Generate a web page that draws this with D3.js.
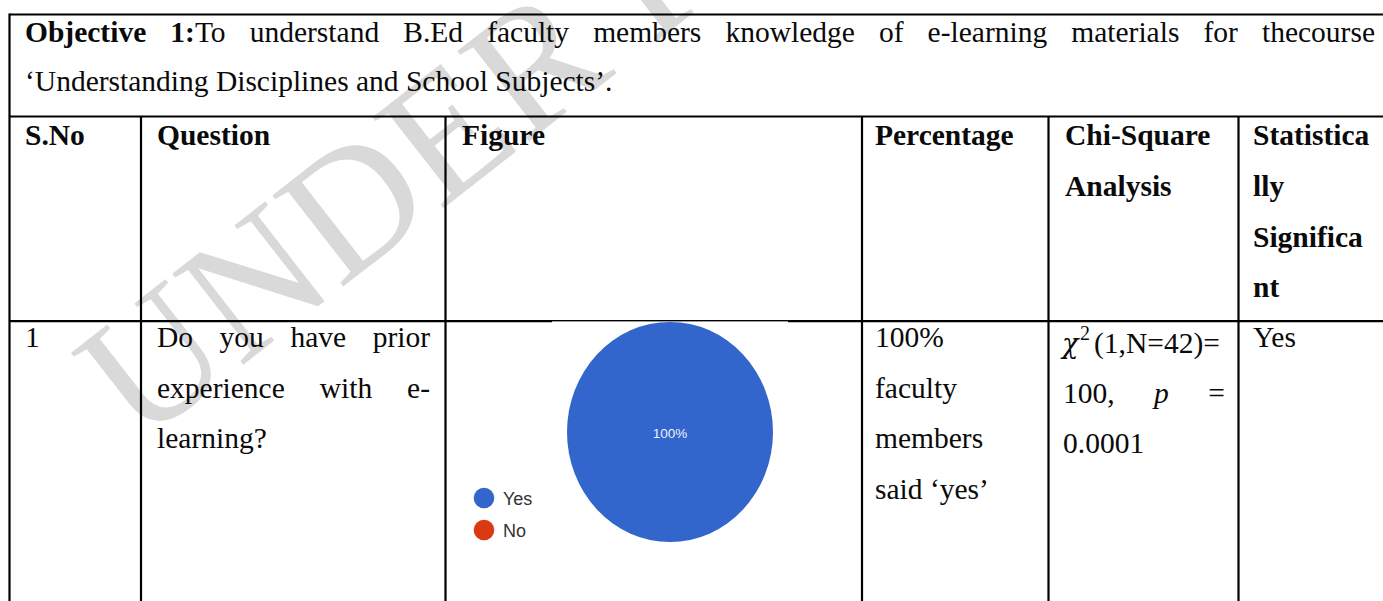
<!DOCTYPE html>
<html><head><meta charset="utf-8">
<script src="https://cdn.jsdelivr.net/npm/d3@7"></script>
<style>html,body{margin:0;padding:0;background:#fff;overflow:hidden}</style>
</head><body>
<script>
// ---- data ----
const categories = ["Yes", "No"];
const values = [100, 0];
const sliceColors = ["#3366cc", "#dc3912"];
const sliceLabels = ["100%", ""];
const headerLines = [["S.No"], ["Question"], ["Figure"], ["Percentage"], ["Chi-Square", "Analysis"], ["Statistica", "lly", "Significa", "nt"]];
const objectiveLine1 = [[["Objective", "b"]], [["1:", "b"], ["To"]], [["understand"]], [["B.Ed"]], [["faculty"]], [["members"]], [["knowledge"]], [["of"]], [["e-learning"]], [["materials"]], [["for"]], [["thecourse"]]];
const objectiveLine2 = "‘Understanding Disciplines and School Subjects’.";
const rowNumber = "1";
const questionLines = ["Do you have prior", "experience with e-", "learning?"];
const percentageLines = ["100%", "faculty", "members", "said ‘yes’"];
const chiLine1 = ["χ", "2", "(1,N=42)="];
const chiLine2 = [[["100,"]], [["p", "i"]], [["="]]];
const chiLine3 = "0.0001";
const significant = "Yes";
const watermark = "UNDER REVIEW";

// ---- layout ----
const W = 1383, H = 601;
const SERIF = "'Liberation Serif','Times New Roman',serif";
const FS = 29.5;
const svg = d3.select("body").append("svg").attr("width", W).attr("height", H)
  .style("display", "block");

// watermark (clipped by the page edge, as in the source)
svg.append("g").attr("clip-path", "inset(0)").append("text").text(watermark)
  .attr("transform", "translate(139,446) rotate(-38)")
  .attr("font-family", SERIF).attr("font-size", 176)
  .attr("fill", "#d9d9d9");

function addSegs(textSel, segs) {
  segs.forEach(s => {
    const ts = textSel.append("tspan").text(s[0]);
    if (s[1] === "b") ts.attr("font-weight", "bold");
    if (s[1] === "i") ts.attr("font-style", "italic");
  });
}
function makeText(x, y, segs) {
  const t = svg.append("text").attr("x", x).attr("y", y)
    .attr("font-family", SERIF).attr("font-size", FS).attr("fill", "#0a0a0a");
  addSegs(t, segs);
  return t;
}
function justify(words, x0, x1, y) {
  const nodes = words.map(w => makeText(0, y, w));
  const widths = nodes.map(n => n.node().getComputedTextLength());
  const total = d3.sum(widths);
  const gap = (x1 - x0 - total) / (words.length - 1);
  let x = x0;
  nodes.forEach((n, i) => { n.attr("x", x); x += widths[i] + gap; });
}

// Objective row
justify(objectiveLine1, 25, 1375, 41.7);
makeText(25, 90.5, [[objectiveLine2]]);

// header row
const colText = [25, 157, 462, 875, 1065, 1253];
const headerBase = [145, 195.7, 246.5, 297.3];
headerLines.forEach((lines, c) => lines.forEach((ln, i) => makeText(colText[c], headerBase[i], [[ln, "b"]])));

// data row
const rowBase = [347.3, 397.8, 448.2, 498.5];
makeText(25, rowBase[0], [[rowNumber]]);
justify(questionLines[0].split(" ").map(w => [[w]]), 157, 430, rowBase[0]);
justify(questionLines[1].split(" ").map(w => [[w]]), 157, 430, rowBase[1]);
makeText(157, rowBase[2], [[questionLines[2]]]);
percentageLines.forEach((ln, i) => makeText(875, rowBase[i], [[ln]]));
const chiT = makeText(1062, 352.5, []);
chiT.append("tspan").attr("font-style", "italic").attr("font-family", "'DejaVu Serif',serif").attr("font-size", 27).text(chiLine1[0]);
chiT.append("tspan").attr("x", 1080).attr("font-size", 20).attr("dy", -13).text(chiLine1[1]);
chiT.append("tspan").attr("x", 1094).attr("dy", 13).text(chiLine1[2]);
justify(chiLine2, 1063, 1225, 403);
makeText(1063, 453, [[chiLine3]]);
makeText(1253, rowBase[0], [[significant]]);

// table lines
const lineX = [9.5, 141, 445.5, 862, 1048.5, 1238.5];
const yTop = 14.5, yObj = 116.5, yHead = 321.2;
const g = svg.append("g").attr("stroke", "#000").attr("stroke-width", 2.2);
g.append("line").attr("x1", lineX[0]).attr("x2", W).attr("y1", yTop).attr("y2", yTop);
g.append("line").attr("x1", lineX[0]).attr("x2", W).attr("y1", yObj).attr("y2", yObj);
g.append("line").attr("x1", lineX[0]).attr("x2", W).attr("y1", yHead).attr("y2", yHead);
g.append("line").attr("x1", lineX[0]).attr("x2", lineX[0]).attr("y1", yTop - 1).attr("y2", H);
lineX.slice(1).forEach(x => g.append("line").attr("x1", x).attr("x2", x).attr("y1", yObj).attr("y2", H));

// figure image: white background slightly covering the line
svg.append("rect").attr("x", 552).attr("y", yHead + 0.2).attr("width", 236).attr("height", 2).attr("fill", "#fff");

// pie
const cx = 670, cy = 432, rx = 103, ry = 110;
const pie = d3.pie().sort(null).value(d => d)(values);
const arc = d3.arc().innerRadius(0).outerRadius(rx);
const pg = svg.append("g").attr("transform", `translate(${cx},${cy}) scale(1,${ry / rx})`);
pg.selectAll("path").data(pie).join("path")
  .attr("d", arc).attr("fill", (d, i) => sliceColors[i]);
const full = d => d.endAngle - d.startAngle >= 2 * Math.PI - 1e-6;
svg.selectAll(".slabel").data(pie.filter(d => d.value > 0)).join("text")
  .attr("x", d => cx + (full(d) ? 0 : arc.centroid(d)[0]))
  .attr("y", d => cy + 5.5 + (full(d) ? 0 : arc.centroid(d)[1] * ry / rx))
  .attr("text-anchor", "middle").attr("font-family", "Arial, 'Liberation Sans', sans-serif")
  .attr("font-size", 13.5).attr("fill", "#eef2fb").text(d => sliceLabels[d.index]);

// legend
const lg = svg.append("g").attr("transform", "translate(484,498)");
categories.forEach((c, i) => {
  lg.append("circle").attr("cx", 0).attr("cy", i * 32).attr("r", 10.3).attr("fill", sliceColors[i]);
  lg.append("text").attr("x", 19).attr("y", i * 32 + 6.5).attr("font-family", "Arial, 'Liberation Sans', sans-serif")
    .attr("font-size", 18).attr("fill", "#333").text(c);
});
</script>
</body></html>
